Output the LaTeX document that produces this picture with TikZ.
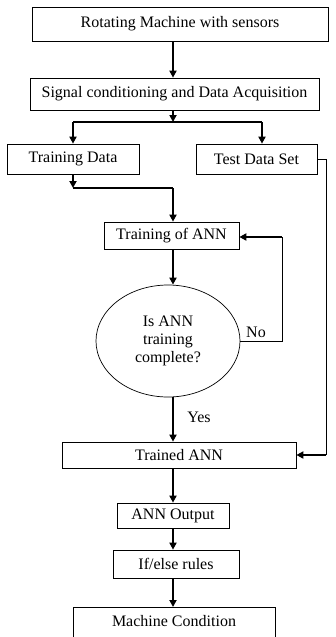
\documentclass[tikz,border=0pt]{standalone}
\usepackage{fontspec}
\setmainfont{Liberation Serif}
\usetikzlibrary{arrows.meta,shapes.geometric}

\begin{document}
\begin{tikzpicture}[x=1pt,y=-1pt,
  font=\fontsize{16}{18}\selectfont,
  box/.style={draw,line width=0.7pt,rectangle,inner sep=0pt},
  arr/.style={line width=1.8pt,-{Triangle[length=7pt,width=7pt]}},
  thinline/.style={line width=0.8pt}]

\useasboundingbox (0,0) rectangle (335,637);

% Boxes, top to bottom.
\node[box,minimum width=296,minimum height=34] (mach) at (180,24)
  {Rotating Machine with sensors};
\node[box,minimum width=289,minimum height=32] (sig) at (174.5,94)
  {Signal conditioning and Data Acquisition};
\node[box,minimum width=132,minimum height=30] (train) at (73,159)
  {Training Data};
\node[box,minimum width=121,minimum height=30] (test) at (256.5,159)
  {Test Data Set};
\node[box,minimum width=135,minimum height=27] (tann) at (171.5,235.5)
  {Training of ANN};
\node[draw,line width=0.7pt,ellipse,minimum width=144,minimum height=112,
  align=center,inner sep=0pt,font=\fontsize{16}{18}\selectfont] (check) at (168,341)
  {Is ANN\\training\\complete?};
\node[box,minimum width=234,minimum height=26] (trained) at (179,455)
  {Trained ANN};
\node[box,minimum width=112,minimum height=25] (out) at (173,515.5)
  {ANN Output};
\node[box,minimum width=126,minimum height=28] (rules) at (176,564)
  {If/else rules};

% Last box runs off the bottom edge.
\node (cond) at (174,621) {Machine Condition};
\draw[line width=0.7pt] (73,660) |- (275,607) -- (275,660);
\coordinate (condtop) at (173,607);

% Splits and bends.
\coordinate (split) at (173,122);
\coordinate (join) at (73,188);
\coordinate (loop) at (282,237);
\coordinate (side) at (326,455);

\draw[arr] (mach.south -| out) -- (sig.north -| out);
\draw[arr] (sig.south -| out) -- (split);
\draw[line width=1.8pt] (train.north |- split) -- (split -| 262,0);
\draw[arr] (train.north |- split) -- (train.north);
\draw[arr] (split -| 262,0) -- (test.north -| 262,0);

\draw[arr] (train.south) -- (join);
\draw[line width=1.8pt] (join) -- (join -| out);
\draw[arr] (join -| out) -- (tann.north -| out);

\draw[arr] (tann.south -| out) -- (check.north -| out);

% No: back to training.
\draw[thinline] (check.east) -- (check.east -| loop) -- (loop);
\draw[arr] (loop) -- (tann.east |- loop);
\node at (256,332) {No};

% Yes: on to the trained net.
\draw[arr] (check.south -| out) -- (trained.north -| out);
\node at (199,417) {Yes};

% Test data goes straight to the trained net.
\draw[thinline] (test.east) -- (test.east -| side) -- (side);
\draw[arr] (side) -- (trained.east);

\draw[arr] (trained.south -| out) -- (out.north);
\draw[arr] (out.south) -- (rules.north -| out);
\draw[arr] (rules.south -| out) -- (condtop);

\end{tikzpicture}
\end{document}
